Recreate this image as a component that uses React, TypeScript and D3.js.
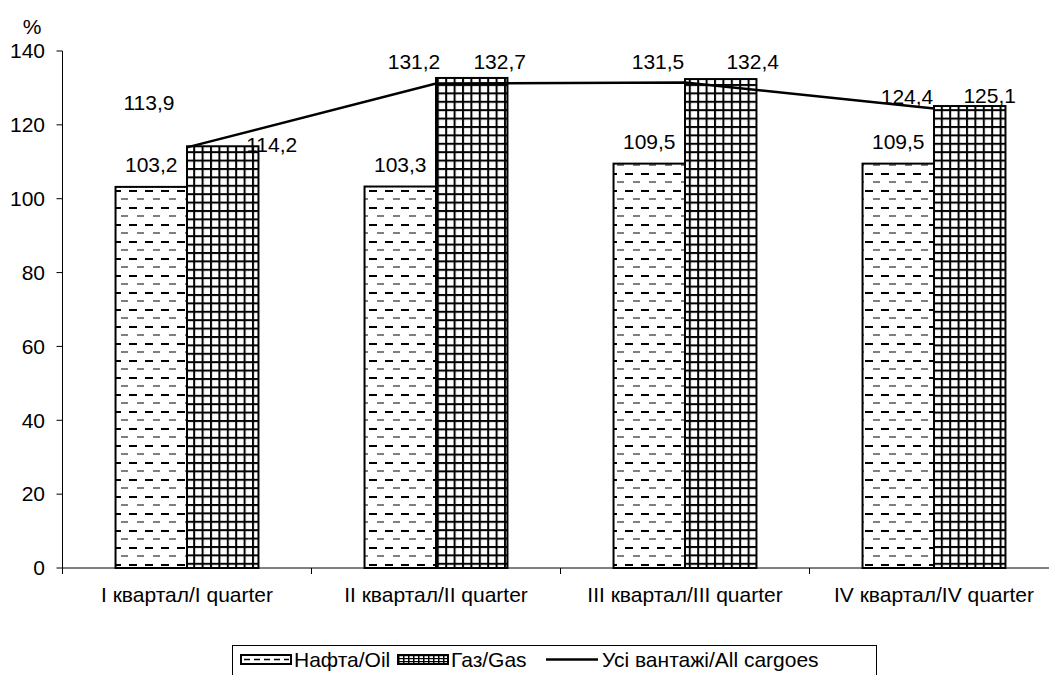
import * as d3 from "d3";

const categories = ["I квартал/I quarter", "II квартал/II quarter", "III квартал/III quarter", "IV квартал/IV quarter"];
const oilValues = [103.2, 103.3, 109.5, 109.5];
const gasValues = [114.2, 132.7, 132.4, 125.1];
const allValues = [113.9, 131.2, 131.5, 124.4];
const yTicks = [0, 20, 40, 60, 80, 100, 120, 140];
const seriesNames = ["Нафта/Oil", "Газ/Gas", "Усі вантажі/All cargoes"];

// label nudges (px) copied from the hand-placed labels of the original chart
const gasLabelShift = [
  { dx: 49, dy: 6 },
  { dx: 28, dy: -9 },
  { dx: 32, dy: -10 },
  { dx: 20, dy: -3 },
];
const allLabelShift = [
  { dx: -38, dy: -37 },
  { dx: -22, dy: -14 },
  { dx: -27, dy: -13 },
  { dx: -27, dy: -5 },
];

const W = 1049;
const H = 675;
const PLOT = { left: 62.5, top: 51, bottom: 568 };
const FONT = "Liberation Sans, Arial, sans-serif";
const FS = 21;

export default function App() {
  const x = d3
    .scaleBand<string>()
    .domain(categories)
    .range([PLOT.left, PLOT.left + 249 * 4])
    .paddingInner(0.426)
    .paddingOuter(0.213);
  const sub = d3.scaleBand<string>().domain(["oil", "gas"]).range([0, x.bandwidth()]);
  const y = d3.scaleLinear().domain([0, 140]).range([PLOT.bottom, PLOT.top]);

  const center = (c: string) => (x(c) ?? 0) + x.bandwidth() / 2;
  const line = d3
    .line<number>()
    .x((_, i) => center(categories[i]))
    .y((d) => y(d));

  const fmt = (v: number) => v.toFixed(1).replace(".", ",");

  return (
    <svg
      width={W}
      height={H}
      style={{ position: "absolute", left: 0, top: 0, background: "#fff" }}
      fontFamily={FONT}
    >
      <defs>
        <pattern id="oil" patternUnits="userSpaceOnUse" width={16} height={17}>
          <rect width={16} height={17} fill="#fff" />
          <rect x={1} y={3} width={8} height={2} fill="#000" />
          <rect x={9} y={11.5} width={8} height={1} fill="#000" />
        </pattern>
        <pattern id="gas" patternUnits="userSpaceOnUse" width={8.4} height={8.4}>
          <rect width={8.4} height={8.4} fill="#fff" />
          <rect x={0} y={0} width={2} height={8.4} fill="#000" />
          <rect x={0} y={0} width={8.4} height={2} fill="#000" />
        </pattern>
        <pattern id="gasL" patternUnits="userSpaceOnUse" x={398} y={655} width={5} height={3}>
          <rect width={5} height={3} fill="#fff" />
          <rect x={0} y={0} width={1.5} height={3} fill="#000" />
          <rect x={0} y={0} width={5} height={1.2} fill="#000" />
        </pattern>
      </defs>

      {/* y axis */}
      <text x={32} y={34} fontSize={FS} textAnchor="middle">%</text>
      <line x1={PLOT.left} x2={PLOT.left} y1={PLOT.top} y2={PLOT.bottom} stroke="#000" />
      {yTicks.map((t) => (
        <g key={t}>
          <line x1={PLOT.left - 6} x2={PLOT.left} y1={y(t)} y2={y(t)} stroke="#000" />
          <text x={45} y={y(t)} dy="0.35em" fontSize={FS} textAnchor="end">{t}</text>
        </g>
      ))}

      {/* bars */}
      {categories.map((c, i) => {
        const x0 = x(c) ?? 0;
        return (
          <g key={c}>
            <rect
              x={x0 + (sub("oil") ?? 0)}
              y={y(oilValues[i])}
              width={sub.bandwidth()}
              height={y(0) - y(oilValues[i])}
              fill="url(#oil)"
              stroke="#000"
              strokeWidth={2}
            />
            <rect
              x={x0 + (sub("gas") ?? 0)}
              y={y(gasValues[i])}
              width={sub.bandwidth()}
              height={y(0) - y(gasValues[i])}
              fill="url(#gas)"
              stroke="#000"
              strokeWidth={2}
            />
          </g>
        );
      })}

      {/* x axis */}
      <line x1={PLOT.left} x2={W} y1={PLOT.bottom} y2={PLOT.bottom} stroke="#000" />
      {categories.map((c) => (
        <g key={c}>
          <line x1={x(c)! - x.step() * 0.213} x2={x(c)! - x.step() * 0.213} y1={PLOT.bottom} y2={PLOT.bottom + 6} stroke="#000" />
          <text x={center(c)} y={PLOT.bottom + 34} fontSize={FS} textAnchor="middle">{c}</text>
        </g>
      ))}

      {/* line */}
      <path d={line(allValues) ?? ""} fill="none" stroke="#000" strokeWidth={2.5} />

      {/* labels */}
      {categories.map((c, i) => {
        const x0 = x(c) ?? 0;
        const oilC = x0 + (sub("oil") ?? 0) + sub.bandwidth() / 2;
        const gasC = x0 + (sub("gas") ?? 0) + sub.bandwidth() / 2;
        return (
          <g key={c} fontSize={FS} textAnchor="middle">
            <text x={oilC} y={y(oilValues[i]) - 15}>{fmt(oilValues[i])}</text>
            <text x={gasC + gasLabelShift[i].dx} y={y(gasValues[i]) + gasLabelShift[i].dy}>{fmt(gasValues[i])}</text>
            <text x={center(c) + allLabelShift[i].dx} y={y(allValues[i]) + allLabelShift[i].dy}>{fmt(allValues[i])}</text>
          </g>
        );
      })}

      {/* legend */}
      <g fontSize={FS}>
        <rect x={232.5} y={645.5} width={644} height={40} fill="#fff" stroke="#000" />
        <rect x={241} y={655} width={50} height={9} fill="#fff" stroke="#000" strokeWidth={2} />
        <line x1={244} x2={289} y1={659.5} y2={659.5} stroke="#000" strokeWidth={1.5} strokeDasharray="6,4" />
        <text x={294} y={667}>{seriesNames[0]}</text>
        <rect x={398} y={655} width={50} height={9} fill="url(#gasL)" stroke="#000" strokeWidth={2} />
        <text x={451} y={667}>{seriesNames[1]}</text>
        <line x1={546} x2={598} y1={659.5} y2={659.5} stroke="#000" strokeWidth={2.5} />
        <text x={602} y={667}>{seriesNames[2]}</text>
      </g>
    </svg>
  );
}
